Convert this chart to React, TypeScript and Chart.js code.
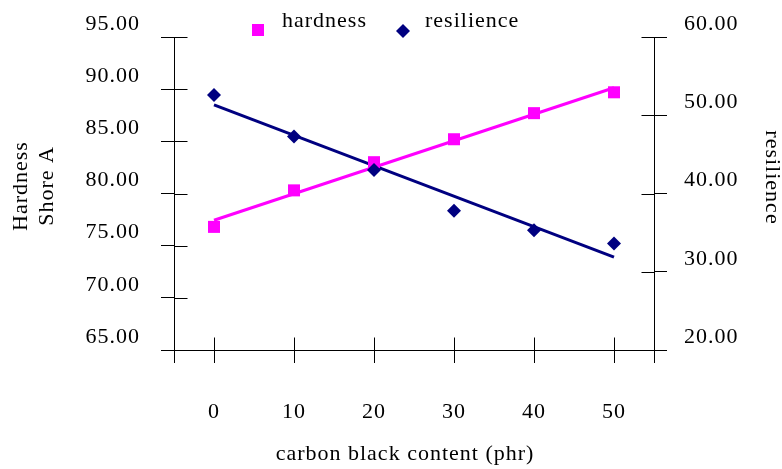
import React, { useEffect, useRef } from 'react';
import { Chart, registerables } from 'chart.js';

Chart.register(...registerables);

// ---- data ----
const carbonBlack = [0, 10, 20, 30, 40, 50];
const hardness = [76.8, 80.3, 83.0, 85.2, 87.7, 89.7];
const resilience = [52.6, 47.3, 43.0, 37.8, 35.3, 33.6];
const xTicks = [0, 10, 20, 30, 40, 50];
const hardnessTicks = [65, 70, 75, 80, 85, 90, 95];
const resilienceTicks = [20, 30, 40, 50, 60];
const seriesNames = ['hardness', 'resilience'];
const xTitle = 'carbon black content (phr)';
const leftTitle = ['Hardness', 'Shore A'];
const rightTitle = 'resilience';

const MAGENTA = '#FF00FF';
const NAVY = '#000080';
const FONT = '"Liberation Serif", "Times New Roman", serif';

function linearFit(xs: number[], ys: number[]) {
  const n = xs.length;
  const mx = xs.reduce((a, b) => a + b, 0) / n;
  const my = ys.reduce((a, b) => a + b, 0) / n;
  let sxy = 0, sxx = 0;
  for (let i = 0; i < n; i++) {
    sxy += (xs[i] - mx) * (ys[i] - my);
    sxx += (xs[i] - mx) * (xs[i] - mx);
  }
  const slope = sxy / sxx;
  const b = my - slope * mx;
  const x0 = Math.min(...xs);
  const x1 = Math.max(...xs);
  return [
    { x: x0, y: b + slope * x0 },
    { x: x1, y: b + slope * x1 },
  ];
}

const spacingPlugin = {
  id: 'spacing',
  beforeUpdate(chart: any) { chart.ctx.letterSpacing = '1px'; },
  beforeDraw(chart: any) { chart.ctx.letterSpacing = '1px'; },
};

const innerTicksPlugin = {
  id: 'innerTicks',
  afterDraw(chart: any) {
    const ctx = chart.ctx;
    const { x, y, y1 } = chart.scales;
    const len = 13;
    const al = (v: number) => Math.round(v) + 0.5;
    ctx.save();
    ctx.strokeStyle = '#000';
    ctx.lineWidth = 1;
    ctx.beginPath();
    for (const t of y.ticks) {
      const p = al(y.getPixelForValue(t.value));
      const ax = al(y.right);
      ctx.moveTo(ax, p);
      ctx.lineTo(ax + len, p);
    }
    for (const t of y1.ticks) {
      const p = al(y1.getPixelForValue(t.value));
      const ax = al(y1.left);
      ctx.moveTo(ax, p);
      ctx.lineTo(ax - len, p);
    }
    for (const t of x.ticks) {
      if (!xTicks.includes(t.value)) continue;
      const p = al(x.getPixelForValue(t.value));
      const ay = al(x.top);
      ctx.moveTo(p, ay);
      ctx.lineTo(p, ay - len);
    }
    ctx.stroke();
    ctx.restore();
  },
};

const labelsPlugin = {
  id: 'labelsPlugin',
  afterDraw(chart: any) {
    const ctx = chart.ctx;
    ctx.save();
    ctx.letterSpacing = '1px';
    ctx.fillStyle = '#000';
    ctx.font = `22px ${FONT}`;
    ctx.textBaseline = 'middle';
    ctx.textAlign = 'center';
    // x title
    ctx.fillText(xTitle, 405, 454);
    // left title (two lines, rotated)
    ctx.save();
    ctx.translate(21, 186);
    ctx.rotate(-Math.PI / 2);
    ctx.fillText(leftTitle[0], 0, 0);
    ctx.restore();
    ctx.save();
    ctx.translate(47.5, 186);
    ctx.rotate(-Math.PI / 2);
    ctx.fillText(leftTitle[1], 0, 0);
    ctx.restore();
    // right title
    ctx.save();
    ctx.translate(772, 177.5);
    ctx.rotate(Math.PI / 2);
    ctx.fillText(rightTitle, 0, 0);
    ctx.restore();

    // legend
    ctx.textAlign = 'left';
    ctx.textBaseline = 'alphabetic';
    ctx.fillStyle = MAGENTA;
    ctx.fillRect(252, 24, 12, 12);
    ctx.fillStyle = '#000';
    ctx.fillText(seriesNames[0], 282, 27);
    ctx.fillStyle = NAVY;
    ctx.beginPath();
    ctx.moveTo(403, 24);
    ctx.lineTo(410, 31);
    ctx.lineTo(403, 38);
    ctx.lineTo(396, 31);
    ctx.closePath();
    ctx.fill();
    ctx.fillStyle = '#000';
    ctx.fillText(seriesNames[1], 425, 27);
    ctx.restore();
  },
};

export default function App() {
  const ref = useRef<HTMLCanvasElement>(null);

  useEffect(() => {
    if (!ref.current) return;
    const hardnessFit = linearFit(carbonBlack, hardness);
    const resilienceFit = linearFit(carbonBlack, resilience);

    const tickFont = { family: FONT, size: 22 };

    const chart = new Chart(ref.current, {
      type: 'scatter',
      data: {
        datasets: [
          {
            label: seriesNames[1],
            data: carbonBlack.map((x, i) => ({ x, y: resilience[i] })),
            yAxisID: 'y1',
            pointStyle: 'rectRot',
            pointRadius: 7,
            pointHoverRadius: 7,
            backgroundColor: NAVY,
            borderColor: NAVY,
            borderWidth: 0,
            order: 0,
          },
          {
            label: seriesNames[0],
            data: carbonBlack.map((x, i) => ({ x, y: hardness[i] })),
            yAxisID: 'y',
            pointStyle: 'rect',
            pointRadius: 8.5,
            pointHoverRadius: 8.5,
            backgroundColor: MAGENTA,
            borderColor: MAGENTA,
            borderWidth: 0,
            order: 1,
          },
          {
            type: 'line',
            label: 'resilience trend',
            data: resilienceFit,
            yAxisID: 'y1',
            borderColor: NAVY,
            borderWidth: 3,
            pointRadius: 0,
            fill: false,
            order: 2,
          },
          {
            type: 'line',
            label: 'hardness trend',
            data: hardnessFit,
            yAxisID: 'y',
            borderColor: MAGENTA,
            borderWidth: 3,
            pointRadius: 0,
            fill: false,
            order: 3,
          },
        ] as any,
      },
      plugins: [spacingPlugin, innerTicksPlugin, labelsPlugin],
      options: {
        animation: false,
        responsive: false,
        devicePixelRatio: 1,
        layout: { padding: { top: 37, left: 0, right: 0, bottom: 0 } },
        plugins: {
          legend: { display: false },
          tooltip: { enabled: false },
        },
        scales: {
          x: {
            type: 'linear',
            position: 'bottom',
            min: -5,
            max: 55,
            afterBuildTicks: (s: any) => {
              s.ticks = [-5, ...xTicks, 55].map((v) => ({ value: v }));
            },
            afterFit: (s: any) => { s.height = 119; },
            ticks: {
              font: tickFont,
              color: '#000',
              padding: 36,
              maxRotation: 0,
              autoSkip: false,
              callback: (v: any) => (xTicks.includes(Number(v)) ? String(v) : ''),
            },
            grid: {
              drawOnChartArea: false,
              drawTicks: true,
              tickLength: 13,
              tickColor: '#000',
              color: '#000',
            },
            border: { display: true, color: '#000', width: 1 },
          },
          y: {
            type: 'linear',
            position: 'left',
            min: 65,
            max: 95,
            afterBuildTicks: (s: any) => {
              s.ticks = hardnessTicks.map((v) => ({ value: v }));
            },
            afterFit: (s: any) => { s.width = 174; },
            ticks: {
              font: tickFont,
              color: '#000',
              padding: 21,
              labelOffset: -13,
              autoSkip: false,
              callback: (v: any) => Number(v).toFixed(2),
            },
            grid: {
              drawOnChartArea: false,
              drawTicks: true,
              tickLength: 13,
              tickColor: '#000',
              color: '#000',
            },
            border: { display: true, color: '#000', width: 1 },
          },
          y1: {
            type: 'linear',
            position: 'right',
            min: 20,
            max: 60,
            afterBuildTicks: (s: any) => {
              s.ticks = resilienceTicks.map((v) => ({ value: v }));
            },
            afterFit: (s: any) => { s.width = 128; },
            ticks: {
              font: tickFont,
              color: '#000',
              padding: 17,
              labelOffset: -13,
              autoSkip: false,
              callback: (v: any) => Number(v).toFixed(2),
            },
            grid: {
              drawOnChartArea: false,
              drawTicks: true,
              tickLength: 13,
              tickColor: '#000',
              color: '#000',
            },
            border: { display: true, color: '#000', width: 1 },
          },
        },
      } as any,
    });
    return () => chart.destroy();
  }, []);

  return (
    <div style={{ position: 'fixed', left: 0, top: 0, width: 782, height: 469, background: '#fff' }}>
      <canvas ref={ref} width={782} height={469} style={{ display: 'block', width: 782, height: 469 }} />
    </div>
  );
}
